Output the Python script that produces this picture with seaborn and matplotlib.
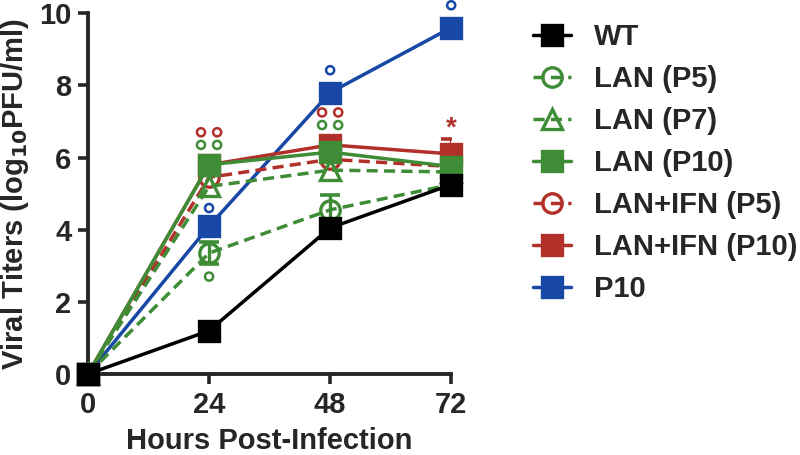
import numpy as np
import pandas as pd
import matplotlib
matplotlib.use("Agg")
import matplotlib.pyplot as plt
import seaborn as sns

hours = [0, 24, 48, 72]

wt = [0.0, 1.2, 4.05, 5.25]
lan_p5 = [0.0, 3.35, 4.55, 5.25]
lan_p7 = [0.0, 5.2, 5.65, 5.6]
lan_p10 = [0.0, 5.8, 6.15, 5.75]
ifn_p5 = [0.0, 5.45, 5.95, 5.75]
ifn_p10 = [0.0, 5.8, 6.35, 6.1]
p10 = [0.0, 4.1, 7.8, 9.6]

lan_p5_err = [0.0, 0.3, 0.4, 0.1]
ifn_p10_err = [0.0, 0.1, 0.1, 0.4]

labels = ["WT", "LAN (P5)", "LAN (P7)", "LAN (P10)",
          "LAN+IFN (P5)", "LAN+IFN (P10)", "P10"]

# significance marks (open circles) : x, y, colour key
sig_x = [22.4, 25.6, 22.4, 25.6, 24, 24, 46.4, 49.6, 46.4, 49.6, 48, 72]
sig_y = [6.7, 6.7, 6.35, 6.35, 2.7, 4.6, 7.25, 7.25, 6.9, 6.9, 8.42, 10.22]
sig_c = ["red", "red", "green", "green", "green", "blue",
         "red", "red", "green", "green", "blue", "blue"]
star_x = [72]
star_y = [6.8]

BLACK = "#000000"
GREEN = "#3f8c36"
RED = "#b2302a"
BLUE = "#1748a5"
cmap = {"red": RED, "green": GREEN, "blue": BLUE}

df = pd.DataFrame({
    "hours": hours * 7,
    "titer": wt + lan_p5 + lan_p7 + lan_p10 + ifn_p5 + ifn_p10 + p10,
    "group": sum([[l] * 4 for l in labels], []),
})

styles = {
    "WT": dict(color=BLACK, ls="-", marker="s", mfc=BLACK, z=10),
    "LAN (P5)": dict(color=GREEN, ls=(0, (3.2, 1.8)), marker="o", mfc="none", z=7),
    "LAN (P7)": dict(color=GREEN, ls=(0, (3.2, 1.8)), marker="^", mfc="none", z=8),
    "LAN (P10)": dict(color=GREEN, ls="-", marker="s", mfc=GREEN, z=6),
    "LAN+IFN (P5)": dict(color=RED, ls=(0, (3.2, 1.8)), marker="o", mfc="none", z=4),
    "LAN+IFN (P10)": dict(color=RED, ls="-", marker="s", mfc=RED, z=5),
    "P10": dict(color=BLUE, ls="-", marker="s", mfc=BLUE, z=3),
}
msize = {"s": 14.5, "o": 14, "^": 15}

sns.set_theme(style="ticks")
plt.rcParams["font.family"] = ["Liberation Sans", "DejaVu Sans"]
plt.rcParams["font.weight"] = "bold"

FS = 21

fig = plt.figure(figsize=(8, 4.55), dpi=100)
ax = fig.add_axes([0.11, 0.178, 0.454, 0.793])

# error bars
ax.errorbar(hours, lan_p5, yerr=lan_p5_err, fmt="none", ecolor=GREEN,
            elinewidth=2.4, capsize=7, capthick=2.6, zorder=2)
ax.errorbar(hours, ifn_p10, yerr=[[0] * 4, ifn_p10_err], fmt="none", ecolor=RED,
            elinewidth=2.4, capsize=7, capthick=2.6, zorder=2)

for lab in labels:
    st = styles[lab]
    sub = df[df["group"] == lab]
    sns.lineplot(data=sub, x="hours", y="titer", ax=ax, color=st["color"],
                 linestyle=st["ls"], linewidth=2.5, marker=st["marker"],
                 markersize=msize[st["marker"]],
                 markerfacecolor=st["mfc"], markeredgecolor=st["color"],
                 markeredgewidth=2.4, label=lab, zorder=st["z"],
                 clip_on=False, errorbar=None)

handles, labs = ax.get_legend_handles_labels()
if ax.get_legend() is not None:
    ax.get_legend().remove()

sns.scatterplot(x=sig_x, y=sig_y, hue=sig_c, palette=cmap, ax=ax, marker="o",
                s=34, linewidth=1.8, legend=False,
                clip_on=False, zorder=12)
coll = ax.collections[-1]
coll.set_facecolor("none")
coll.set_edgecolor([cmap[k] for k in sig_c])

for x, y in zip(star_x, star_y):
    ax.text(x, y, "*", color=RED, fontsize=20, ha="center", va="center",
            fontweight="bold")

ax.set_xlim(0, 72)
ax.set_ylim(0, 10)
ax.set_xticks([0, 24, 48, 72])
ax.set_yticks([0, 2, 4, 6, 8, 10])
ax.tick_params(axis="both", labelsize=FS, width=2.6, length=7, pad=5,
               direction="out")
for lbl in ax.get_xticklabels() + ax.get_yticklabels():
    lbl.set_fontweight("bold")
for s in ["left", "bottom"]:
    ax.spines[s].set_linewidth(2.8)
for s in ["top", "right"]:
    ax.spines[s].set_visible(False)
ax.set_xlabel("Hours Post-Infection", fontsize=FS, fontweight="bold", labelpad=6)
ax.set_ylabel("Viral Titers (log$_{\\mathbf{10}}$PFU/ml)", fontsize=FS,
              fontweight="bold", labelpad=6)
ax.set_facecolor("white")

leg = fig.legend(handles, labs, loc="upper left",
                 bbox_to_anchor=(0.666, 0.95), frameon=False,
                 fontsize=FS, handlelength=1.3, handletextpad=0.8,
                 labelspacing=0.48, borderpad=0, borderaxespad=0)
for t in leg.get_texts():
    t.set_fontweight("bold")

fig.savefig("out.png", dpi=100, facecolor="white")
